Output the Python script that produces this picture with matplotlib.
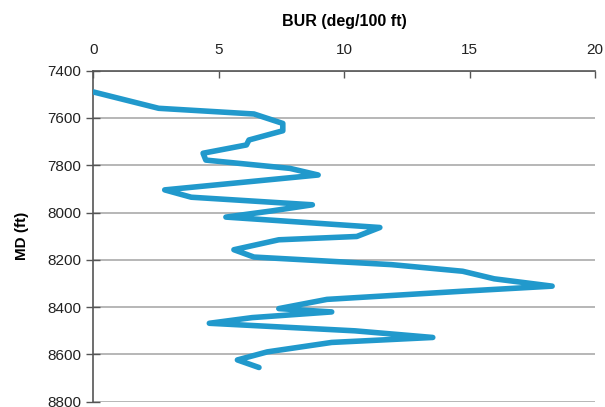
import matplotlib.pyplot as plt

plt.rcParams['font.family'] = ['Liberation Sans', 'DejaVu Sans']

# BUR readings (deg/100 ft) against measured depth (ft)
md = [7490, 7559, 7583, 7623, 7654, 7693, 7714, 7749, 7778, 7813,
      7841, 7904, 7935, 7967, 7993, 8019, 8063, 8101, 8115, 8157,
      8188, 8220, 8248, 8280, 8311, 8332, 8367, 8406, 8420, 8444,
      8468, 8500, 8528, 8549, 8589, 8623, 8655]
bur = [0.0, 2.6, 6.4, 7.55, 7.55, 6.2, 6.1, 4.37, 4.48, 7.83,
       8.96, 2.84, 3.9, 8.73, 7.1, 5.28, 11.42, 10.5, 7.39, 5.6,
       6.4, 11.88, 14.72, 15.98, 18.29, 14.79, 9.31, 7.39, 9.5, 6.33,
       4.62, 10.43, 13.53, 9.5, 6.93, 5.74, 6.6]

x_ticks = [0, 5, 10, 15, 20]
y_ticks = [7400, 7600, 7800, 8000, 8200, 8400, 8600, 8800]

fig = plt.figure(figsize=(6.05, 4.07), dpi=100)
ax = fig.add_axes([0.1545, 0.0128, 0.829, 0.8135])

ax.plot(bur, md, color='#2199cc', linewidth=4.0,
        solid_joinstyle='round', solid_capstyle='round', zorder=3)

ax.set_xlim(0, 20)
ax.set_ylim(8800, 7400)
ax.set_xticks(x_ticks)
ax.set_yticks(y_ticks)

ax.xaxis.set_ticks_position('top')
ax.xaxis.set_label_position('top')
ax.set_xlabel('BUR (deg/100 ft)', fontsize=11.5, fontweight='bold', labelpad=12)
ax.set_ylabel('MD (ft)', fontsize=11, fontweight='bold', labelpad=13)

ax.tick_params(axis='x', direction='in', length=5, width=1, colors='#555555',
               labelcolor='#222222', labelsize=11, pad=10)
ax.tick_params(axis='y', direction='inout', length=10, width=1, colors='#555555',
               labelcolor='#222222', labelsize=11, pad=4)

for side in ['right', 'bottom']:
    ax.spines[side].set_visible(False)
for side in ['left', 'top']:
    ax.spines[side].set_color('#555555')
    ax.spines[side].set_linewidth(1.2)

ax.grid(axis='y', color='#aaaaaa', linewidth=1.2)
ax.set_axisbelow(True)

fig.savefig('out.png', dpi=100)
